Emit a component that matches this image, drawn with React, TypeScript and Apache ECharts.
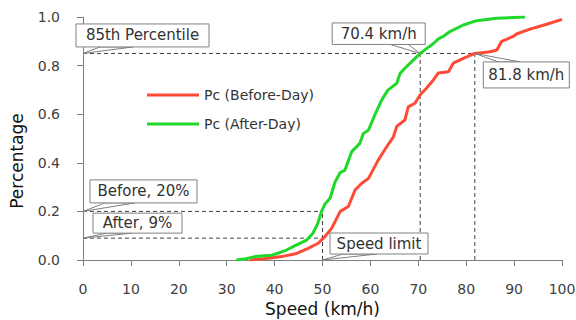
import React, { useEffect, useRef } from "react";
import * as echarts from "echarts";

// ---- data ----
const afterDay: [number, number][] = [
  [32, 0], [34, 0.005], [35.9, 0.014], [39.4, 0.02], [41, 0.03], [42.5, 0.041],
  [44.6, 0.062], [46.7, 0.082], [48, 0.11], [49, 0.15], [49.8, 0.2], [50.5, 0.23],
  [51.6, 0.255], [52.6, 0.32], [53.7, 0.36], [54.7, 0.37], [56.1, 0.446], [57.8, 0.48],
  [58.5, 0.52], [59.6, 0.535], [61, 0.6], [62.4, 0.66], [63.7, 0.7], [65.5, 0.727],
  [66.2, 0.768], [67.2, 0.789], [68.3, 0.81], [70.4, 0.85], [71.7, 0.87], [73.1, 0.89],
  [74.2, 0.91], [75.2, 0.92], [76.6, 0.94], [79.4, 0.967], [82.2, 0.985], [86.3, 0.995],
  [92.3, 1.0],
];
const beforeDay: [number, number][] = [
  [34.9, 0], [38.7, 0.007], [41.5, 0.014], [44.6, 0.027], [47, 0.048], [49.1, 0.069],
  [50.5, 0.096], [51.9, 0.13], [53.7, 0.2], [55.4, 0.22], [56.8, 0.288], [58.2, 0.316],
  [59.6, 0.336], [61.6, 0.41], [63.4, 0.466], [64.8, 0.507], [65.5, 0.55], [67.2, 0.576],
  [67.9, 0.63], [69.3, 0.645], [70.4, 0.68], [71.7, 0.707], [73.1, 0.74], [74.2, 0.77],
  [76.3, 0.775], [77.3, 0.81], [79.4, 0.83], [81.8, 0.85], [85, 0.857], [86.4, 0.864],
  [87.4, 0.9], [89.8, 0.92], [90.5, 0.93], [93.3, 0.95], [96.8, 0.97], [100, 0.99],
];
const seriesNames = ["Pc (Before-Day)", "Pc (After-Day)"];
const p85 = 0.85;
const speed85After = 70.4;
const speed85Before = 81.8;
const speedLimit = 50;
const pctBefore = 0.2;
const pctAfter = 0.09;
const xName = "Speed (km/h)";
const yName = "Percentage";

// callout texts and anchors (data coordinates)
const calloutTexts = ["85th Percentile", "70.4 km/h", "81.8 km/h", "Before, 20%", "After, 9%", "Speed limit"];
const calloutAnchors: [number, number][] = [
  [0, p85], [speed85After, p85], [speed85Before, p85], [0, pctBefore], [0, pctAfter], [speedLimit, 0],
];

// layout of each callout relative to its anchor
const calloutLayout = [
  { dx: -7, dy: -29.5, w: 133, h: 23, b1: 24, b2: 57, top: false },
  { dx: -88, dy: -30.5, w: 93, h: 21.5, b1: 58, b2: 76, top: false },
  { dx: 8.5, dy: 8.5, w: 86, h: 26, b1: 15, b2: 37, top: true },
  { dx: 7, dy: -31.5, w: 107, h: 23, b1: 15, b2: 45, top: false },
  { dx: 10, dy: -25, w: 89, h: 20, b1: 14, b2: 39, top: false },
  { dx: 7.5, dy: -27, w: 98, h: 21, b1: 13, b2: 47, top: false },
];

const FONT = "DejaVu Sans";

export default function App() {
  const ref = useRef<HTMLDivElement>(null);
  useEffect(() => {
    document.body.style.margin = "0";
    const chart = echarts.init(ref.current!, null, { renderer: "svg" });
    const dashStyle = { color: "#404040", width: 1, type: [4, 3] as any };
    const dashSeries = (data: [number, number][]) => ({
      type: "line",
      data,
      symbol: "none",
      silent: true,
      lineStyle: dashStyle,
      z: 1,
    });
    chart.setOption({
      animation: false,
      textStyle: { fontFamily: FONT },
      grid: { left: 83, right: 14, top: 17, bottom: 60, containLabel: false, outerBoundsMode: "none" },
      legend: {
        data: seriesNames,
        orient: "vertical",
        left: 142,
        top: 83,
        itemWidth: 52,
        itemHeight: 3,
        itemGap: 15,
        icon: "rect",
        textStyle: { fontSize: 14, color: "#333", fontFamily: FONT },
      },
      xAxis: {
        type: "value",
        min: 0,
        max: 100,
        interval: 10,
        name: xName,
        nameLocation: "middle",
        nameGap: 38,
        nameTextStyle: { fontSize: 17, color: "#111", fontFamily: FONT },
        splitLine: { show: false },
        axisLine: { lineStyle: { color: "#7f7f7f", width: 1 } },
        axisTick: { length: 6, lineStyle: { color: "#7f7f7f" } },
        axisLabel: { fontSize: 14, color: "#404040", margin: 22, fontFamily: FONT },
      },
      yAxis: {
        type: "value",
        min: 0,
        max: 1,
        interval: 0.2,
        splitLine: { show: false },
        axisLine: { show: true, lineStyle: { color: "#7f7f7f", width: 1 } },
        axisTick: { show: true, length: 6, lineStyle: { color: "#7f7f7f" } },
        axisLabel: {
          fontSize: 14,
          color: "#404040",
          margin: 23,
          fontFamily: FONT,
          formatter: (v: number) => v.toFixed(1),
        },
      },
      series: [
        dashSeries([[0, p85], [speed85Before, p85]]),
        dashSeries([[speed85After, 0], [speed85After, p85]]),
        dashSeries([[speed85Before, 0], [speed85Before, p85]]),
        dashSeries([[0, pctBefore], [speedLimit, pctBefore]]),
        dashSeries([[0, pctAfter], [speedLimit, pctAfter]]),
        dashSeries([[speedLimit, 0], [speedLimit, pctBefore]]),
        {
          name: seriesNames[0],
          type: "line",
          data: beforeDay,
          showSymbol: false,
          symbol: "none",
          lineStyle: { color: "#ff4a36", width: 3 },
          itemStyle: { color: "#ff4a36" },
          z: 3,
        },
        {
          name: seriesNames[1],
          type: "line",
          data: afterDay,
          showSymbol: false,
          symbol: "none",
          lineStyle: { color: "#1fd82a", width: 3 },
          itemStyle: { color: "#1fd82a" },
          z: 3,
        },
      ],
    });

    const graphics: any[] = [];
    calloutTexts.forEach((txt, i) => {
      const [ax, ay] = chart.convertToPixel({ gridIndex: 0 }, calloutAnchors[i]) as number[];
      const L = calloutLayout[i];
      const bx = ax + L.dx;
      const by = ay + L.dy;
      const baseY = L.top ? by : by + L.h;
      graphics.push({
        type: "polygon",
        z: 100,
        shape: { points: [[bx + L.b1, baseY], [ax, ay], [bx + L.b2, baseY]] },
        style: { fill: "#fff", stroke: "#808080", lineWidth: 1 },
      });
      graphics.push({
        type: "rect",
        z: 101,
        shape: { x: bx, y: by, width: L.w, height: L.h },
        style: { fill: "#fff", stroke: "#808080", lineWidth: 1 },
      });
      graphics.push({
        type: "text",
        z: 102,
        x: bx + L.w / 2,
        y: by + L.h / 2,
        style: {
          text: txt,
          fill: "#333",
          font: `15px "${FONT}"`,
          align: "center",
          verticalAlign: "middle",
        },
      });
    });
    graphics.push({
      type: "text",
      x: 17,
      y: 161,
      rotation: Math.PI / 2,
      style: {
        text: yName,
        fill: "#111",
        font: `17px "${FONT}"`,
        align: "center",
        verticalAlign: "middle",
      },
    });
    chart.setOption({ graphic: graphics });
    return () => chart.dispose();
  }, []);
  return <div ref={ref} style={{ width: 576, height: 320 }} />;
}
